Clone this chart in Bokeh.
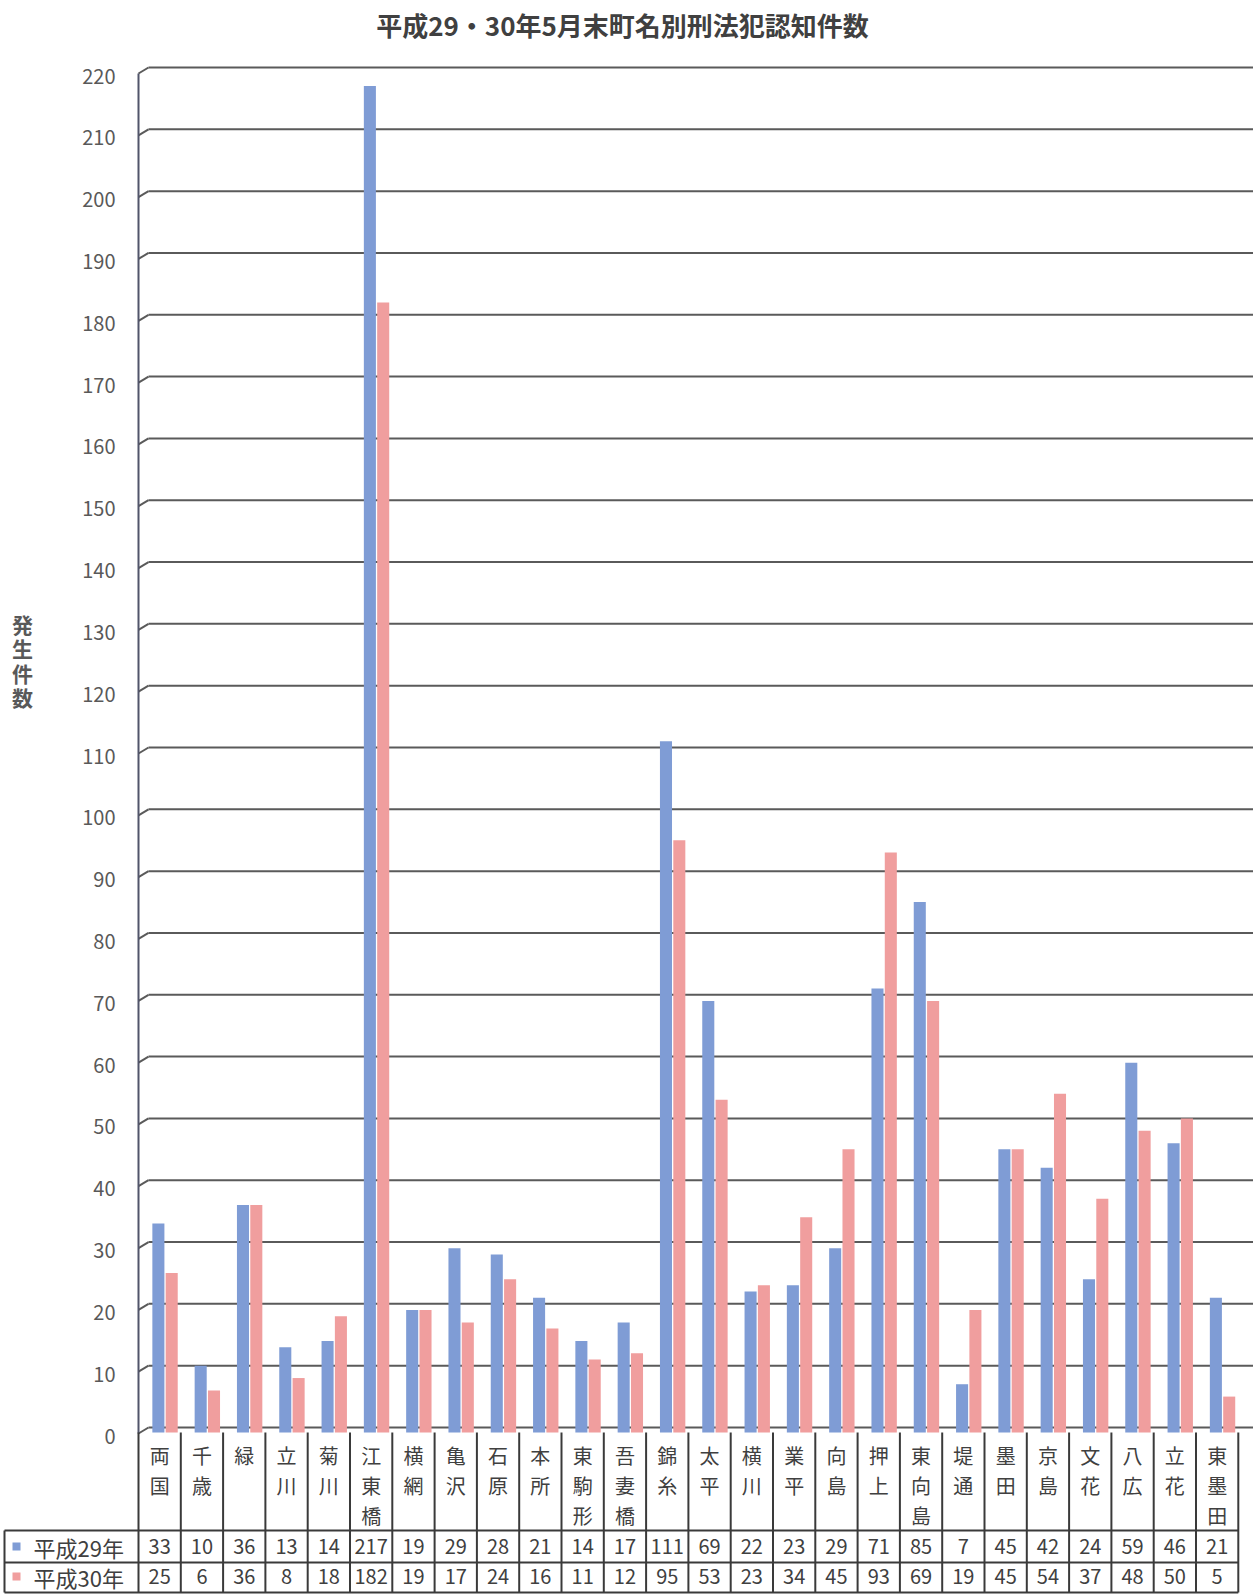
from bokeh.plotting import figure
from bokeh.models import Range1d
from bokeh.core.properties import value
from bokeh.embed import file_html
from bokeh.resources import INLINE

# ---------------- data ----------------
categories = ["両国", "千歳", "緑", "立川", "菊川", "江東橋", "横網", "亀沢", "石原", "本所",
              "東駒形", "吾妻橋", "錦糸", "太平", "横川", "業平", "向島", "押上", "東向島", "堤通",
              "墨田", "京島", "文花", "八広", "立花", "東墨田"]
h29 = [33, 10, 36, 13, 14, 217, 19, 29, 28, 21, 14, 17, 111, 69, 22, 23, 29, 71, 85, 7,
       45, 42, 24, 59, 46, 21]
h30 = [25, 6, 36, 8, 18, 182, 19, 17, 24, 16, 11, 12, 95, 53, 23, 34, 45, 93, 69, 19,
       45, 54, 37, 48, 50, 5]
series_names = ["平成29年", "平成30年"]
y_ticks = list(range(0, 221, 10))
title = "平成29・30年5月末町名別刑法犯認知件数"
y_title = "発生件数"

# ---------------- layout (pixels) ----------------
W, H = 1253, 1594
AX_PX = 138.0          # x pixel of category axis start
UX = 42.3              # px per category
ZERO_PX = 1427.0       # y pixel of value 0 (back wall)
UY = 1360.0 / 220.0    # px per value unit

def X(px):
    return (px - AX_PX) / UX

def Y(py):
    return (ZERO_PX - py) / UY

FONT = value("Noto Sans CJK JP")
TXT = "#404040"
GRID = "#5a5a5a"
BLUE = "#7f9cd5"
PINK = "#f09e9e"
BORDER = "#3a3a3a"

p = figure(width=W, height=H, x_range=Range1d(X(0), X(W)), y_range=Range1d(Y(H), Y(0)),
           output_backend="svg", toolbar_location=None, x_axis_type=None, y_axis_type=None,
           min_border=0, min_border_left=0, min_border_right=0, min_border_top=0,
           min_border_bottom=0)
p.grid.visible = False
p.outline_line_color = None
p.background_fill_color = "white"
p.border_fill_color = "white"

front_dy = 6.0 / UY
knee_dx = X(AX_PX + 10) - X(AX_PX)

# gridlines with 3D knee
p.segment(x0=[0.0] * len(y_ticks), y0=[v - front_dy for v in y_ticks],
          x1=[knee_dx] * len(y_ticks), y1=y_ticks, line_color=GRID, line_width=2)
p.segment(x0=[knee_dx] * len(y_ticks), y0=y_ticks,
          x1=[X(W + 10)] * len(y_ticks), y1=y_ticks, line_color=GRID, line_width=2)

# bars
n = len(categories)
bar_bottom = Y(ZERO_PX + 5)
p.vbar(x=[i + 0.47 for i in range(n)], width=0.285, top=h29, bottom=bar_bottom,
       fill_color=BLUE, line_color=None)
p.vbar(x=[i + 0.785 for i in range(n)], width=0.285, top=h30, bottom=bar_bottom,
       fill_color=PINK, line_color=None)

# vertical axis
p.segment(x0=[0], y0=[Y(ZERO_PX + 6)], x1=[0], y1=[220 - front_dy],
          line_color="#51556a", line_width=2)

# ---------------- table ----------------
cat_top = Y(ZERO_PX + 5)
row1_top = Y(1530)
row2_top = Y(1562)
tbl_bot = Y(1592)
# vertical borders between columns (including axis & right edge)
p.segment(x0=list(range(n + 1)), y0=[cat_top] * (n + 1), x1=list(range(n + 1)),
          y1=[tbl_bot] * (n + 1), line_color=BORDER, line_width=2)
# left border of header column
p.segment(x0=[X(4)], y0=[row1_top], x1=[X(4)], y1=[tbl_bot], line_color=BORDER, line_width=2)
# horizontal borders
p.segment(x0=[X(4)] * 3, y0=[row1_top, row2_top, tbl_bot], x1=[n] * 3,
          y1=[row1_top, row2_top, tbl_bot], line_color=BORDER, line_width=2)

# category labels (vertical stacked characters)
cx, cy, ct = [], [], []
for i, name in enumerate(categories):
    for k, ch in enumerate(name):
        cx.append(i + 0.5)
        cy.append(Y(1455 + 30 * k))
        ct.append(ch)
p.text(x=cx, y=cy, text=ct, text_font=FONT, text_font_size="20px", text_color=TXT,
       text_align="center", text_baseline="middle")

# numbers
r1y = Y(1546)
r2y = Y(1576)
p.text(x=[i + 0.5 for i in range(n)], y=[r1y] * n, text=[str(v) for v in h29], text_font=FONT,
       text_font_size="20px", text_color=TXT, text_align="center", text_baseline="middle")
p.text(x=[i + 0.5 for i in range(n)], y=[r2y] * n, text=[str(v) for v in h30], text_font=FONT,
       text_font_size="20px", text_color=TXT, text_align="center", text_baseline="middle")

# legend keys in table header
p.rect(x=[X(16), X(16)], y=[r1y, r2y], width=8, height=8, width_units="screen",
       height_units="screen", fill_color=[BLUE, PINK], line_color=None)
p.text(x=[X(33), X(33)], y=[r1y, r2y], text=series_names, text_font=FONT,
       text_font_size="22px", text_color=TXT, text_align="left", text_baseline="middle")

# y tick labels
p.text(x=[X(115)] * len(y_ticks), y=[v - 8.5 / UY for v in y_ticks], text=[str(v) for v in y_ticks],
       text_font=FONT, text_font_size="20px", text_color="#595959", text_align="right",
       text_baseline="middle")

# y title (stacked)
p.text(x=[X(22)] * len(y_title), y=[Y(623 + 24.5 * k) for k in range(len(y_title))],
       text=list(y_title), text_font=FONT, text_font_size="21px", text_font_style="bold",
       text_color="#595959", text_align="center", text_baseline="middle")

# chart title
p.text(x=[X(622)], y=[Y(24)], text=[title], text_font=FONT, text_font_size="26px",
       text_font_style="bold", text_color="#404040", text_align="center", text_baseline="middle")

open("out.html", "w").write(file_html(p, INLINE))
